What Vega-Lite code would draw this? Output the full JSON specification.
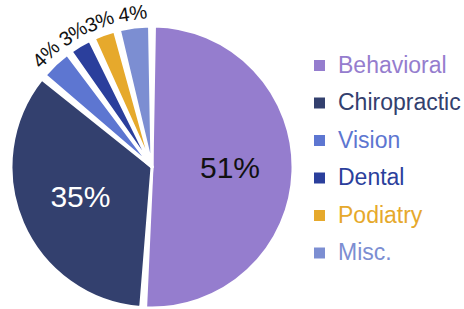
{
  "$schema": "https://vega.github.io/schema/vega-lite/v6.json",
  "autosize": {"type": "none"},
  "width": 286,
  "height": 280,
  "padding": {"left": 9, "top": 27, "right": 169, "bottom": 2},
  "background": "white",
  "config": {"view": {"stroke": null}, "font": "Liberation Sans"},
  "data": {
    "values": [
      {"category": "Behavioral", "value": 51, "label": "51%", "rank": 1},
      {"category": "Chiropractic", "value": 35, "label": "35%", "rank": 2},
      {"category": "Vision", "value": 4, "label": "4%", "rank": 3},
      {"category": "Dental", "value": 3, "label": "3%", "rank": 4},
      {"category": "Podiatry", "value": 3, "label": "3%", "rank": 5},
      {"category": "Misc.", "value": 4, "label": "4%", "rank": 6}
    ]
  },
  "encoding": {
    "theta": {"field": "value", "type": "quantitative", "stack": true},
    "order": {"field": "rank", "type": "quantitative"}
  },
  "layer": [
    {
      "mark": {"type": "arc", "outerRadius": 141, "padAngle": 0.035, "stroke": "white", "strokeWidth": 3, "strokeJoin": "round"},
      "encoding": {
        "color": {
          "field": "category",
          "type": "nominal",
          "scale": {
            "domain": ["Behavioral", "Chiropractic", "Vision", "Dental", "Podiatry", "Misc."],
            "range": ["#957DCE", "#33406E", "#5D76D1", "#2B3F9C", "#E6A92C", "#7C8ED2"]
          },
          "legend": {
            "title": null,
            "orient": "none",
            "legendX": 299,
            "legendY": 27,
            "padding": 0,
            "symbolType": "square",
            "symbolSize": 121,
            "symbolStrokeWidth": 0,
            "labelFont": "Liberation Sans",
            "labelFontSize": 23,
            "labelOffset": 7,
            "rowPadding": 13.5,
            "labelLimit": 200,
            "labelColor": {"expr": "scale('color', datum.value)"}
          }
        }
      }
    },
    {
      "mark": {"type": "text", "radius": 78, "fontSize": 30, "font": "Liberation Sans"},
      "encoding": {
        "detail": {"field": "category", "type": "nominal"},
        "text": {"condition": {"test": "datum.value > 10", "field": "label"}, "value": ""},
        "color": {"condition": {"test": "datum.category === 'Behavioral'", "value": "#111111"}, "value": "white"}
      }
    },
    {
      "mark": {"type": "text", "radius": 154, "fontSize": 20, "font": "Liberation Sans", "color": "#111111"},
      "encoding": {
        "detail": {"field": "category", "type": "nominal"},
        "text": {"condition": {"test": "datum.value < 10", "field": "label"}, "value": ""},
        "angle": {
          "condition": [
            {"test": "datum.category === 'Vision'", "value": -45},
            {"test": "datum.category === 'Dental'", "value": -33},
            {"test": "datum.category === 'Podiatry'", "value": -22}
          ],
          "value": -8
        }
      }
    }
  ]
}
